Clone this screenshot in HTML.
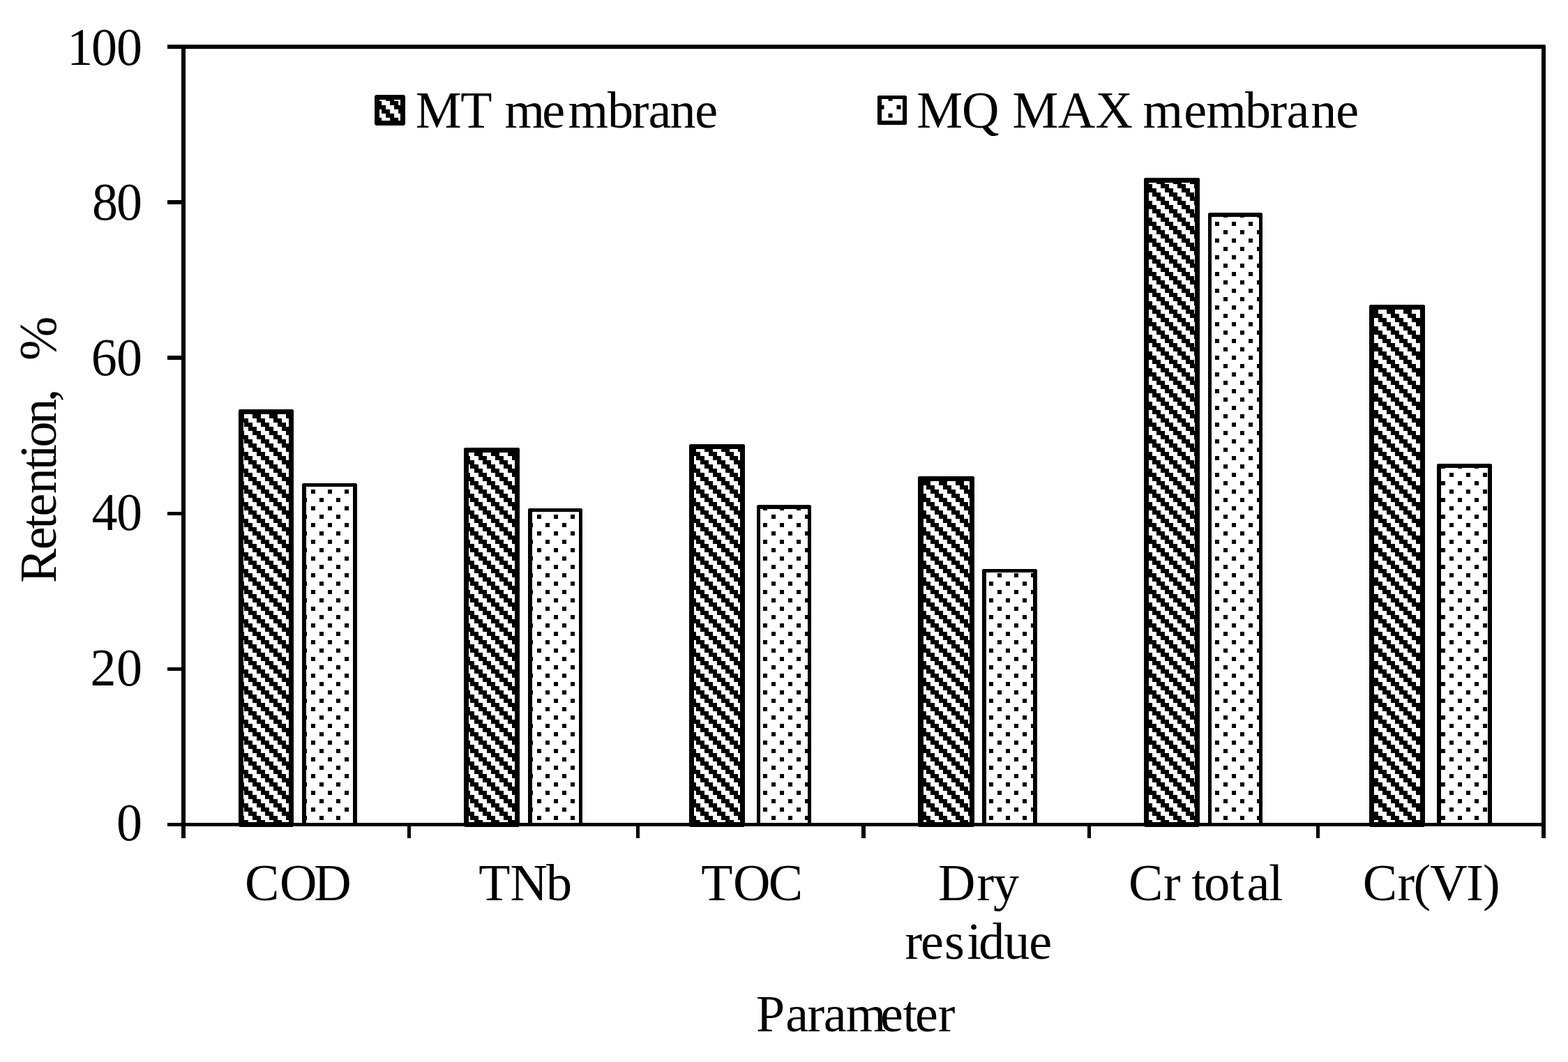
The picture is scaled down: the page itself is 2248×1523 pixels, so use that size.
<!DOCTYPE html>
<html lang="en"><head><meta charset="utf-8"><title>Retention by parameter: MT membrane vs MQ MAX membrane</title>
<style>html,body{margin:0;padding:0;background:#fff}body{width:2248px;height:1523px}svg{display:block}text{font-family:"Liberation Serif","Times New Roman",Times,serif;font-size:74px;fill:#000;font-kerning:none;white-space:pre}</style></head><body>
<svg width="2248" height="1523" viewBox="0 0 2248 1523" role="img" aria-label="Bar chart of retention in percent by parameter for MT and MQ MAX membranes">
<defs>
<pattern id="hatch" patternUnits="userSpaceOnUse" x="2" y="0" width="24" height="24"><rect width="24" height="24" fill="#fff"/><path d="M6 0h12v6H6zM12 6h12v6H12zM18 12h6v6h-6zM0 12h6v6H0zM0 18h12v6H0z" fill="#000"/></pattern>
<pattern id="dots" patternUnits="userSpaceOnUse" x="2" y="0" width="24" height="24"><rect width="24" height="24" fill="#fff"/><path d="M12 6h6v6h-6zM0 18h6v6H0z" fill="#000"/></pattern>
<pattern id="hatchL" patternUnits="userSpaceOnUse" x="1.1" y="0.8" width="24" height="24"><rect width="24" height="24" fill="#fff"/><path d="M6 0h12v6H6zM12 6h12v6H12zM18 12h6v6h-6zM0 12h6v6H0zM0 18h12v6H0z" fill="#000"/></pattern>
<pattern id="dotsL" patternUnits="userSpaceOnUse" x="1.5" y="0.7" width="24" height="24"><rect width="24" height="24" fill="#fff"/><path d="M12 6h6v6h-6zM0 18h6v6H0z" fill="#000"/></pattern>
</defs>
<rect width="2248" height="1523" fill="#fff"/>
<g shape-rendering="crispEdges">
<path d="M343 587H420v1h1V1185h-1v1H343v-1h-1V588h1z" fill="#000"/>
<rect x="349" y="594" width="65" height="585" fill="url(#hatch)"/>
<path d="M434 693H511v1h1V1185H433V694h1z" fill="#000"/>
<rect x="439" y="698" width="67" height="482" fill="url(#dots)"/>
<path d="M666 642H744v1h1V1185h-1v1H666v-1h-1V643h1z" fill="#000"/>
<rect x="672" y="649" width="66" height="530" fill="url(#hatch)"/>
<path d="M758 729H834v1h1V1185H757V730h1z" fill="#000"/>
<rect x="763" y="734" width="67" height="446" fill="url(#dots)"/>
<path d="M989 637H1067v1h1V1185h-1v1H989v-1h-1V638h1z" fill="#000"/>
<rect x="995" y="644" width="66" height="535" fill="url(#hatch)"/>
<path d="M1086 724H1162v1h1V1185H1085V725h1z" fill="#000"/>
<rect x="1090" y="730" width="68" height="450" fill="url(#dots)"/>
<path d="M1317 683H1396v1h1V1185h-1v1H1317v-1h-1V684h1z" fill="#000"/>
<rect x="1324" y="690" width="66" height="489" fill="url(#hatch)"/>
<path d="M1409 816H1486v1h1V1185H1408V817h1z" fill="#000"/>
<rect x="1414" y="821" width="67" height="359" fill="url(#dots)"/>
<path d="M1641 255H1719v1h1V1185h-1v1H1641v-1h-1V256h1z" fill="#000"/>
<rect x="1647" y="262" width="66" height="917" fill="url(#hatch)"/>
<path d="M1733 305H1809v1h1V1185H1732V306h1z" fill="#000"/>
<rect x="1737" y="311" width="68" height="869" fill="url(#dots)"/>
<path d="M1964 437H2042v1h1V1185h-1v1H1964v-1h-1V438h1z" fill="#000"/>
<rect x="1970" y="444" width="66" height="735" fill="url(#hatch)"/>
<path d="M2061 665H2138v1h1V1185H2060V666h1z" fill="#000"/>
<rect x="2066" y="671" width="67" height="509" fill="url(#dots)"/>
<path d="M240 64H2215v1h1V70H240zM260 64H266V1202H260zM2210 66H2216V1202H2210zM240 1180H2216V1185H240zM240 287H262V293H240zM240 510H262V516H240zM240 734H262V739H240zM240 957H262V962H240zM584 1183H589V1202H584zM912 1183H917V1202H912zM1235 1183H1241V1202H1235zM1559 1183H1564V1202H1559zM1887 1183H1892V1202H1887z" fill="#000"/>
</g>
<path d="M539 136h40l2 2v40l-2 2h-40l-2-2v-40z" fill="#000"/>
<rect x="544" y="143" width="30" height="30" fill="url(#hatchL)"/>
<text transform="matrix(1 0 0 1 0 182.60)" x="595.8 660.2 705.4 723.4 777.3 814.6 871.1 905.8 929.4 960.5 996.3">MT membrane</text>
<path d="M1259.5 137h39l1.5 1.5v39l-1.5 1.5h-39l-1.5-1.5v-39z" fill="#000"/>
<rect x="1264" y="142" width="30" height="31" fill="url(#dotsL)"/>
<text transform="matrix(1 0 0 1 0 182.60)" x="1314.3 1379 1432.4 1451.5 1516.7 1570.4 1623.8 1638.4 1697.3 1729.3 1785.1 1820.5 1844.4 1879.2 1915.2">MQ MAX membrane</text>
<text transform="matrix(1 0 0 1.023 0 93.23)" x="96.3 131.1 167">100</text>
<text transform="matrix(1 0 0 1.023 0 315.23)" x="132 167">80</text>
<text transform="matrix(1 0 0 1.023 0 538.13)" x="130.7 167">60</text>
<text transform="matrix(1 0 0 1.023 0 760.23)" x="131.5 167">40</text>
<text transform="matrix(1 0 0 1.023 0 983.23)" x="129.6 167">20</text>
<text transform="matrix(1 0 0 1.023 0 1205.23)" x="167.1">0</text>
<text transform="translate(80.2 0) rotate(-90) scale(1 1.008)" x="-836.1 -788.2 -758.6 -740.5 -708.3 -674 -657.6 -641.5 -608.8 -576 -557.5">Retention, <tspan x="-517" font-size="76">%</tspan></text>
<text transform="matrix(1 0 0 1.008 0 1291.00)" x="350.9 400.9 450.3">COD</text>
<text transform="matrix(1 0 0 1.004 0 1291.00)" x="686.2 731.6 782.9">TNb</text>
<text transform="matrix(1 0 0 1.008 0 1291.00)" x="1005.2 1051 1101.7">TOC</text>
<text><tspan x="1344.9 1400.5 1424" y="1290.7">Dry</tspan> <tspan x="1297.5 1320.1 1354 1386.3 1403.3 1439.3 1475.2" y="1375.4">residue</tspan></text>
<text transform="matrix(1 0 0 1.008 0 1291.00)" x="1618 1668 1692.7 1708.2 1726.3 1763.4 1787.4 1818.9">Cr total</text>
<text transform="matrix(1 0 0 0.99 0 1290.50)" x="1953.8 2003.4 2026.5 2050.2 2102.2 2126">Cr(VI)</text>
<text transform="matrix(1 0 0 1.014 0 1479.40)" x="1083.9 1126.2 1157.6 1180.7 1212.7 1262 1294.5 1311.9 1344.8">Parameter</text>
</svg></body></html>
